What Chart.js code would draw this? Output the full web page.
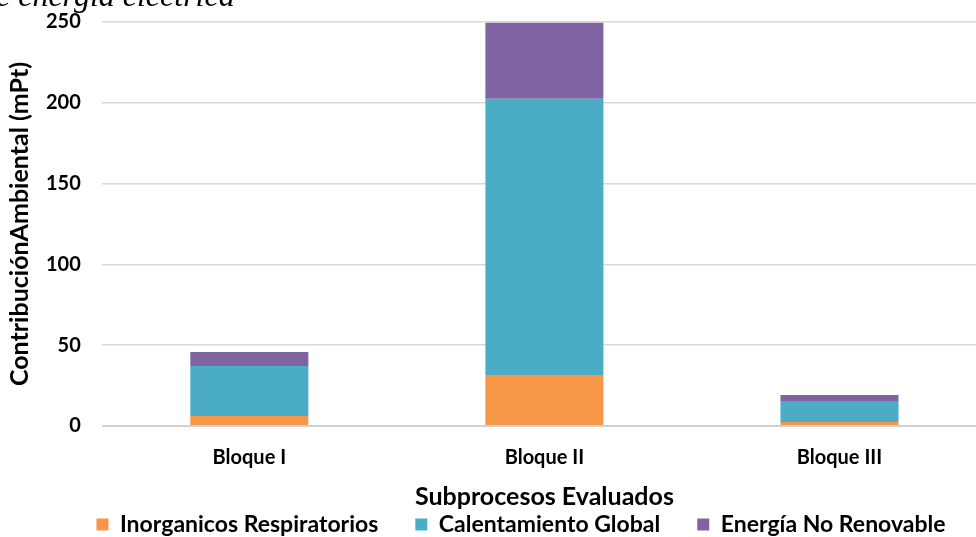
<!DOCTYPE html>
<html>
<head>
<meta charset="utf-8">
<script src="https://cdn.jsdelivr.net/npm/chart.js@4/dist/chart.umd.min.js"></script>
<style>
  html, body { margin: 0; padding: 0; background: #fff; overflow: hidden; }
  /* the original plot runs a little past the right edge of the picture */
  #wrap { position: relative; width: 976px; height: 537px; overflow: hidden; }
  #caption {
    position: absolute; left: -4px; top: -23px;
    font-family: "Liberation Serif", serif; font-style: italic; font-size: 32px;
    color: #000; white-space: nowrap;
  }
</style>
</head>
<body>
<div id="wrap">
  <canvas id="chart" width="987" height="537"></canvas>
  <div id="caption">e energía eléctrica</div>
</div>
<script>
// Data
const categories = ['Bloque I', 'Bloque II', 'Bloque III'];
const inorganicos = [6.2, 31.5, 2.5];
const calentamiento = [31, 171, 13];
const energiaNoRenovable = [8.6, 47, 3.7];
const yTicks = [0, 50, 100, 150, 200, 250];

const FONT = 'Lato, "Open Sans", sans-serif';

// Legend items need wide horizontal spacing but little vertical space,
// and the legend sits a bit right of centre like in the original
const tightLegend = {
  id: 'tightLegend',
  beforeInit(chart) {
    const legend = chart.legend;
    const fit = legend.fit;
    legend.fit = function() {
      fit.call(this);
      this.height = 25;
    };
    const draw = legend.draw;
    legend.draw = function() {
      const { top, left, right } = this;
      this.top -= 36;
      this.left += 25;
      this.right += 25;
      draw.call(this);
      this.top = top;
      this.left = left;
      this.right = right;
    };
  }
};

document.addEventListener('DOMContentLoaded', function() {
  const ctx = document.getElementById('chart');

  new Chart(ctx, {
    type: 'bar',
    data: {
      labels: categories,
      datasets: [
        { label: 'Inorganicos Respiratorios', data: inorganicos, backgroundColor: '#F79646' },
        { label: 'Calentamiento Global', data: calentamiento, backgroundColor: '#4BACC6' },
        { label: 'Energía No Renovable', data: energiaNoRenovable, backgroundColor: '#8064A2' }
      ]
    },
    plugins: [tightLegend],
    options: {
      responsive: false,
      animation: false,
      layout: { padding: { top: 22, right: 0, left: 5, bottom: 0 } },
      datasets: {
        bar: { categoryPercentage: 1.0, barPercentage: 0.40, borderWidth: 0 }
      },
      plugins: {
        tooltip: { enabled: false },
        legend: {
          position: 'bottom',
          labels: {
            font: { family: FONT, size: 23, weight: 'bold' },
            color: '#000',
            boxWidth: 12,
            boxHeight: 12,
            padding: 37
          }
        }
      },
      scales: {
        x: {
          stacked: true,
          grid: { display: false },
          border: { display: false },
          ticks: { font: { family: FONT, size: 20, weight: 'bold' }, color: '#000', padding: 12 },
          title: {
            display: true,
            text: 'Subprocesos Evaluados',
            font: { family: FONT, size: 25, weight: 'bold' },
            color: '#000',
            padding: { top: 0, bottom: 0 }
          }
        },
        y: {
          stacked: true,
          min: 0,
          max: 250,
          afterBuildTicks: axis => { axis.ticks = yTicks.map(v => ({ value: v })); },
          grid: {
            color: ctx => ctx.tick.value === 0 ? '#d0d0d0' : '#d9d9d9',
            lineWidth: ctx => ctx.tick.value === 0 ? 2 : 1.5,
            drawTicks: true,
            tickLength: 21,
            tickColor: 'rgba(0,0,0,0)'
          },
          border: { display: false },
          ticks: { font: { family: FONT, size: 20, weight: 'bold' }, color: '#000', padding: 0 },
          title: {
            display: true,
            text: 'ContribuciónAmbiental (mPt)',
            font: { family: FONT, size: 25, weight: 'bold' },
            color: '#000',
            padding: { top: 0, bottom: 11 }
          }
        }
      }
    }
  });
});
</script>
</body>
</html>
